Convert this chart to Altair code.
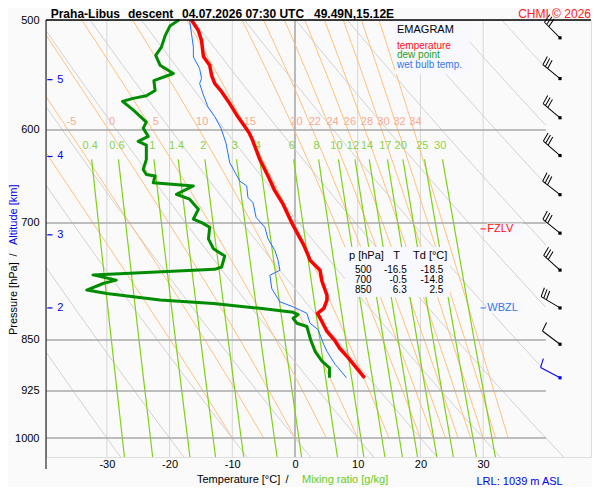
import numpy as np
import pandas as pd
import altair as alt

# ---------------- values ----------------
temp_p = [500, 508.9, 517.3, 531.1, 539.0, 548.0, 555.5, 563.1, 572.5, 585.2, 596.5, 603.1,
          609.8, 630.2, 647.7, 663.8, 678.6, 695.5, 700, 707.0, 724.7, 738.6, 744.7, 757.2,
          771.0, 789.0, 795.5, 806.5, 813.2, 824.4, 838.0, 850, 861.4, 875.7, 890.2, 905.0]
temp_t = [-16.5, -15.4, -14.9, -14.6, -13.6, -13.3, -12.8, -11.7, -10.6, -9.3, -8.0, -7.3,
          -6.8, -5.6, -4.3, -3.2, -1.9, -0.8, -0.5, 0.0, 1.3, 2.1, 2.4, 4.0,
          4.3, 5.1, 5.1, 4.6, 3.6, 4.3, 5.1, 6.3, 7.1, 8.5, 9.8, 11.1]

dew_p = [500, 504.7, 513.1, 523.0, 530.2, 539.0, 546.4, 552.8, 562.0, 566.9, 569.4, 572.2,
         580.4, 592.3, 598.2, 606.4, 611.4, 615.2, 630.2, 640.7, 646.0, 647.7, 655.0, 658.4,
         667.5, 673.0, 684.3, 695.5, 700, 705.1, 718.8, 730.7, 739.5, 753.1, 756.0, 763.0,
         769.7, 774.0, 782.5, 786.9, 795.5, 800.0, 806.5, 811.9, 815.0, 819.9, 826.7, 831.2,
         850, 866.1, 880.4, 890.2, 905.0]
dew_t = [-18.5, -19.9, -20.7, -21.3, -22.2, -21.5, -19.4, -22.5, -22.3, -23.7, -25.8, -27.5,
         -25.8, -23.7, -24.2, -23.4, -25.0, -23.7, -23.7, -24.2, -23.7, -22.3, -22.6, -16.2,
         -18.9, -16.8, -15.4, -16.2, -14.8, -13.6, -13.8, -13.0, -11.2, -11.7, -12.8, -32.2,
         -28.5, -30.6, -33.2, -30.0, -21.5, -13.0, -5.6, -0.3, 0.5, -0.3, 0.3, 1.9,
         2.5, 3.2, 4.3, 5.5, 5.5]

wb_p = [500, 511.6, 523.0, 531.6, 542.0, 550.9, 555.5, 564.7, 577.2, 586.8, 598.2, 613.3,
        633.6, 653.0, 658.4, 671.2, 676.7, 693.6, 705.1, 718.8, 732.8, 744.7, 757.2, 763.4,
        780.6, 797.9, 804.5, 813.2, 826.7, 835.7, 856.6, 866.1, 885.2, 890.2, 905.0]
wb_t = [-16.8, -16.5, -16.2, -16.2, -15.2, -14.9, -15.2, -14.7, -13.9, -12.8, -11.8, -11.0,
        -10.4, -8.8, -7.7, -7.5, -6.7, -6.2, -4.8, -4.3, -3.2, -2.7, -2.4, -4.0,
        -3.7, -2.4, -0.3, 1.9, 2.4, 3.7, 4.6, 5.1, 6.4, 6.9, 8.2]

wind_p = [515, 551, 588, 626, 668, 712, 757, 806, 856, 905]
wind_dir = [315, 309, 310, 311, 308, 309, 312, 301, 307, 298]
wind_kt = [30, 30, 30, 30, 30, 30, 30, 30, 10, 10]

alt_km = [5, 4, 3, 2]
alt_p = [552, 627, 714, 806]

fzlv_p = 707
wbzl_p = 806

table_p = [500, 700, 850]
table_t = [-16.5, -0.5, 6.3]
table_td = [-18.5, -14.8, 2.5]

p_ticks = [500, 600, 700, 850, 925, 1000]
t_ticks = [-30, -20, -10, 0, 10, 20, 30]
dry_theta = list(range(-30, 160, 10))
moist_thetaw = [-10, -5, 0, 5, 10, 15, 20, 22, 24, 26, 28, 30, 32, 34]
moist_labeled = [-5, 0, 5, 10, 15, 20, 22, 24, 26, 28, 30, 32, 34]
mix_w = [0.4, 0.6, 1, 1.4, 2, 3, 4, 6, 8, 10, 12, 14, 17, 20, 25, 30]
mix_txt = ["0.4", "0.6", "1", "1.4", "2", "3", "4", "6", "8", "10", "12", "14", "17", "20", "25", "30"]

# ---------------- geometry of the diagram ----------------
T_MIN, T_MAX, T_GRID_MAX = -39.7, 47.2, 40.0
P_TOP, P_BOT = 500.0, 1032.0
W, H = 545, 437

xs = alt.Scale(domain=[T_MIN, T_MAX], nice=False, zero=False)
ys = alt.Scale(type="log", domain=[P_TOP, P_BOT], nice=False, zero=False, reverse=True)
xaxis = alt.Axis(values=t_ticks, title="", ticks=False, tickSize=0, domain=False, grid=False,
                 labelFontSize=11, labelPadding=1, labelColor="black", labelExpr="'' + datum.value")
yaxis = alt.Axis(values=p_ticks, title="", ticks=False, tickSize=0, domain=False, grid=False,
                 labelFontSize=11, labelPadding=7, labelColor="black", labelOverlap=False,
                 labelExpr="'' + datum.value")


def X(f):
    return alt.X(f"{f}:Q", scale=xs, axis=xaxis)


def Y(f):
    return alt.Y(f"{f}:Q", scale=ys, axis=yaxis)


# thermodynamic background lines
def dry_line(th):
    thk = th + 273.15
    pmax = P_BOT
    if th > T_GRID_MAX:
        pmax = min(P_BOT, 1000.0 * ((T_GRID_MAX + 273.15) / thk) ** (1 / 0.2857))
    if pmax <= P_TOP:
        return None
    p = np.geomspace(P_TOP, pmax, 60)
    return p, thk * (p / 1000.0) ** 0.2857 - 273.15


def moist_line(thw):
    Rd, cp, Lv, eps = 287.04, 1005.7, 2.501e6, 0.622

    def f(p, T):
        es = 6.112 * np.exp(17.67 * (T - 273.15) / (T - 29.65))
        rs = eps * es / (p - es)
        return (Rd * T + Lv * rs) / (p * (cp + Lv * Lv * rs * eps / (Rd * T * T)))

    p, T = 1000.0, thw + 273.15
    ps, Ts = [p], [T]
    dp = -4.0
    while p > P_TOP + 1e-6:
        k1 = f(p, T)
        k2 = f(p + dp / 2, T + dp / 2 * k1)
        T += dp * k2
        p += dp
        ps.append(p)
        Ts.append(T)
    return np.array(ps), np.array(Ts) - 273.15


def mix_T(w, p):
    e = w * p / (622.0 + w)
    a = np.log(e / 6.112)
    return 243.5 * a / (17.67 - a)


rows = []
for k, th in enumerate(dry_theta):
    r = dry_line(th)
    if r is None:
        continue
    for i, (pp, tt) in enumerate(zip(*r)):
        rows.append({"id": k, "i": i, "p": pp, "t": tt})
dry_df = pd.DataFrame(rows)

rows, mlab = [], []
for k, thw in enumerate(moist_thetaw):
    pp, tt = moist_line(thw)
    for i, (a, b) in enumerate(zip(pp, tt)):
        rows.append({"id": k, "i": i, "p": a, "t": b})
    if thw in moist_labeled:
        tl = float(np.interp(605.0, pp[::-1], tt[::-1]))
        mlab.append({"p": 592.0, "t": tl, "lab": str(thw)})
moist_df = pd.DataFrame(rows)
moist_lab_df = pd.DataFrame(mlab)

rows = []
pm = np.geomspace(630.0, P_BOT, 30)
for k, w in enumerate(mix_w):
    for i, pp in enumerate(pm):
        rows.append({"id": k, "i": i, "p": pp, "t": float(mix_T(w, pp))})
mix_df = pd.DataFrame(rows)
mix_lab_df = pd.DataFrame({"p": 616.0, "t": [float(mix_T(w, 616.0)) for w in mix_w], "lab": mix_txt})

iso_df = pd.DataFrame({"t": [t for t in t_ticks if t != 0], "p0": P_TOP, "p1": P_BOT})
iso0_df = pd.DataFrame({"t": [0], "p0": P_TOP, "p1": P_BOT})
bar_df = pd.DataFrame({"p": p_ticks[1:], "t0": T_MIN, "t1": T_GRID_MAX})


def profile(p, t):
    return pd.DataFrame({"p": p, "t": t, "i": range(len(p))})


layers = []
layers.append(alt.Chart(iso_df).mark_rule(color="#D6D6D6", strokeWidth=1).encode(
    x=X("t"), y=Y("p0"), y2=alt.Y2("p1")))
layers.append(alt.Chart(iso0_df).mark_rule(color="#959595", strokeWidth=1.3).encode(
    x=X("t"), y=Y("p0"), y2=alt.Y2("p1")))
layers.append(alt.Chart(dry_df).mark_line(color="#D2D2D2", strokeWidth=1, clip=True).encode(
    x=X("t"), y=Y("p"), detail="id:N", order="i:Q"))
layers.append(alt.Chart(moist_df).mark_line(color="#FFC07C", strokeWidth=1, clip=True).encode(
    x=X("t"), y=Y("p"), detail="id:N", order="i:Q"))
layers.append(alt.Chart(mix_df).mark_line(color="#80D018", strokeWidth=1.2, clip=True).encode(
    x=X("t"), y=Y("p"), detail="id:N", order="i:Q"))
layers.append(alt.Chart(bar_df).mark_rule(color="#A8A8A8", strokeWidth=1.5).encode(
    x=X("t0"), x2=alt.X2("t1"), y=Y("p")))
layers.append(alt.Chart(mix_lab_df).mark_text(color="#8CD246", fontSize=11, align="center",
                                                baseline="middle").encode(
    x=X("t"), y=Y("p"), text="lab:N"))
layers.append(alt.Chart(moist_lab_df).mark_text(color="#F9AA90", fontSize=11, align="center",
                                                  baseline="middle").encode(
    x=X("t"), y=Y("p"), text="lab:N"))

# soundings
layers.append(alt.Chart(profile(wb_p, wb_t)).mark_line(color="#1F6FFF", strokeWidth=1).encode(
    x=X("t"), y=Y("p"), order="i:Q"))
layers.append(alt.Chart(profile(dew_p, dew_t)).mark_line(color="#008C00", strokeWidth=3,
                                                          strokeJoin="round").encode(
    x=X("t"), y=Y("p"), order="i:Q"))
layers.append(alt.Chart(profile(temp_p, temp_t)).mark_line(color="#FF0000", strokeWidth=3.5,
                                                            strokeJoin="round").encode(
    x=X("t"), y=Y("p"), order="i:Q"))


def one():
    return alt.Chart(alt.Data(values=[{}]))


def label(text, x, y, color="black", size=11, align="left", weight="normal", angle=0,
          baseline="middle", **kw):
    props = dict(text=text, color=color, fontSize=size, align=align, baseline=baseline,
                 fontWeight=weight, **kw)
    if angle:
        props["angle"] = angle
    return one().mark_text(**props).encode(x=alt.value(x), y=alt.value(y))


def box(x0, x1, y0, y1, fill="#F8F8FF"):
    return one().mark_rect(color=fill, opacity=1).encode(
        x=alt.value(x0), x2=alt.value(x1), y=alt.value(y0), y2=alt.value(y1))


# legend box
layers.append(box(349, 423.5, 0.8, 54))
layers.append(label("EMAGRAM", 351, 10, size=11))
layers.append(label("temperature", 351, 25.5, color="#FF1010", size=10))
layers.append(label("dew point", 351, 35.3, color="#1E9E1E", size=10))
layers.append(label("wet bulb temp.", 351, 45.1, color="#3377EE", size=10))

# table box (rows drawn from the table arrays)
layers.append(box(299, 404, 227, 277))
layers.append(label("p [hPa]", 303, 235.5, size=11))
layers.append(label("T", 350.7, 235.5, size=11, align="center"))
layers.append(label("Td [°C]", 367, 235.5, size=11))
tab_df = pd.DataFrame({"row": range(len(table_p)),
                       "ptxt": [str(v) for v in table_p],
                       "ttxt": [f"{v:.1f}" for v in table_t],
                       "tdtxt": [f"{v:.1f}" for v in table_td]})
for col, xpos, al in [("ptxt", 309, "left"), ("ttxt", 360.7, "right"), ("tdtxt", 397.3, "right")]:
    for r in range(len(table_p)):
        layers.append(alt.Chart(tab_df).transform_filter(f"datum.row == {r}").mark_text(
            fontSize=10, align=al, baseline="middle", color="black").encode(
            x=alt.value(xpos), y=alt.value(250.3 + 9.9 * r), text=f"{col}:N"))

# freezing level / wet bulb zero level
lev_df = pd.DataFrame({"p": [fzlv_p, wbzl_p], "lab": ["FZLV", "WBZL"],
                       "col": ["#FF1010", "#3377EE"]})
layers.append(alt.Chart(lev_df).mark_rule(color="#F8F8FF", strokeWidth=11).encode(
    x=alt.value(441), x2=alt.value(477), y=Y("p")))
layers.append(alt.Chart(lev_df).mark_rule(strokeWidth=1).encode(
    x=alt.value(434.5), x2=alt.value(440), y=Y("p"), color=alt.Color("col:N", scale=None)))
layers.append(alt.Chart(lev_df).mark_text(fontSize=11, align="left", baseline="middle").encode(
    x=alt.value(441.3), y=Y("p"), text="lab:N", color=alt.Color("col:N", scale=None)))

# altitude markers
alt_df = pd.DataFrame({"p": alt_p, "km": [str(v) for v in alt_km]})
layers.append(alt.Chart(alt_df).mark_rule(color="#0000EE", strokeWidth=1.2).encode(
    x=alt.value(1.3), x2=alt.value(6.5), y=Y("p")))
layers.append(alt.Chart(alt_df).mark_text(color="#0000EE", fontSize=11, align="left",
                                          baseline="middle").encode(
    x=alt.value(11.3), y=Y("p"), text="km:N"))


# wind barbs
def barb_path(spd):
    parts = ["M0,0L0,-1"]
    n_full = int(spd // 10)
    half = (spd % 10) >= 5
    pos = -1.0
    for _ in range(n_full):
        parts.append(f"M0,{pos:.3f}L0.42,{pos - 0.08:.3f}")
        pos += 0.14
    if half:
        parts.append(f"M0,{pos:.3f}L0.21,{pos - 0.04:.3f}")
    return "".join(parts)


wind_df = pd.DataFrame({"p": wind_p, "dir": wind_dir, "kt": wind_kt})
wind_df["shape"] = [barb_path(s) for s in wind_kt]
wind_df["col"] = ["black"] * (len(wind_p) - 1) + ["#0000FF"]
layers.append(alt.Chart(wind_df).mark_point(filled=False, size=1936, strokeWidth=1,
                                            opacity=1).encode(
    x=alt.value(514), y=Y("p"), shape=alt.Shape("shape:N", scale=None),
    angle=alt.Angle("dir:Q", scale=None), color=alt.Color("col:N", scale=None)))
layers.append(alt.Chart(wind_df).mark_point(filled=True, shape="square", size=10,
                                            opacity=1).encode(
    x=alt.value(514), y=Y("p"), color=alt.Color("col:N", scale=None)))

# frame lines
layers.append(one().mark_rule(color="black", strokeWidth=1.5).encode(
    x=alt.value(0), x2=alt.value(W), y=alt.value(0)))
layers.append(one().mark_rule(color="black", strokeWidth=1).encode(
    x=alt.value(0), y=alt.value(0), y2=alt.value(H + 12)))

# titles and captions
layers.append(label("Praha-Libus", 4.7, -2.5, size=12, weight="bold", baseline="alphabetic"))
layers.append(label("descent", 82, -2.5, size=12, weight="bold", baseline="alphabetic"))
layers.append(label("04.07.2026 07:30 UTC", 136, -2.5, size=12, weight="bold",
                    baseline="alphabetic"))
layers.append(label("49.49N,15.12E", 268, -2.5, size=12, weight="bold", baseline="alphabetic"))
layers.append(label("CHMI © 2026", 545, -2.5, color="#FF2020", size=12, align="right",
                    baseline="alphabetic"))
layers.append(label("Pressure [hPa]", -32, 315, size=11, angle=270))
layers.append(label("/", -32, 235, size=11, angle=270, align="center"))
layers.append(label("Altitude [km]", -32, 225, color="#0000EE", size=11, angle=270))
layers.append(label("Temperature [°C]", 151, 459.5, size=11))
layers.append(label("/", 241, 459.5, size=11, align="center"))
layers.append(label("Mixing ratio [g/kg]", 256, 459.5, color="#66CC22", size=11))
layers.append(label("LRL: 1039 m ASL", 430.5, 461.7, color="#0000EE", size=11))

chart = alt.layer(*layers).properties(
    width=W, height=H,
    padding={"left": 38, "top": 12, "right": 1, "bottom": 30},
    autosize=alt.AutoSizeParams(type="none"),
    background="#FAFAFA",
).configure_view(fill="#F0F0FC", strokeWidth=0).configure(font="Liberation Sans")

chart.save("out.html", embed_options={"renderer": "svg", "actions": False})
